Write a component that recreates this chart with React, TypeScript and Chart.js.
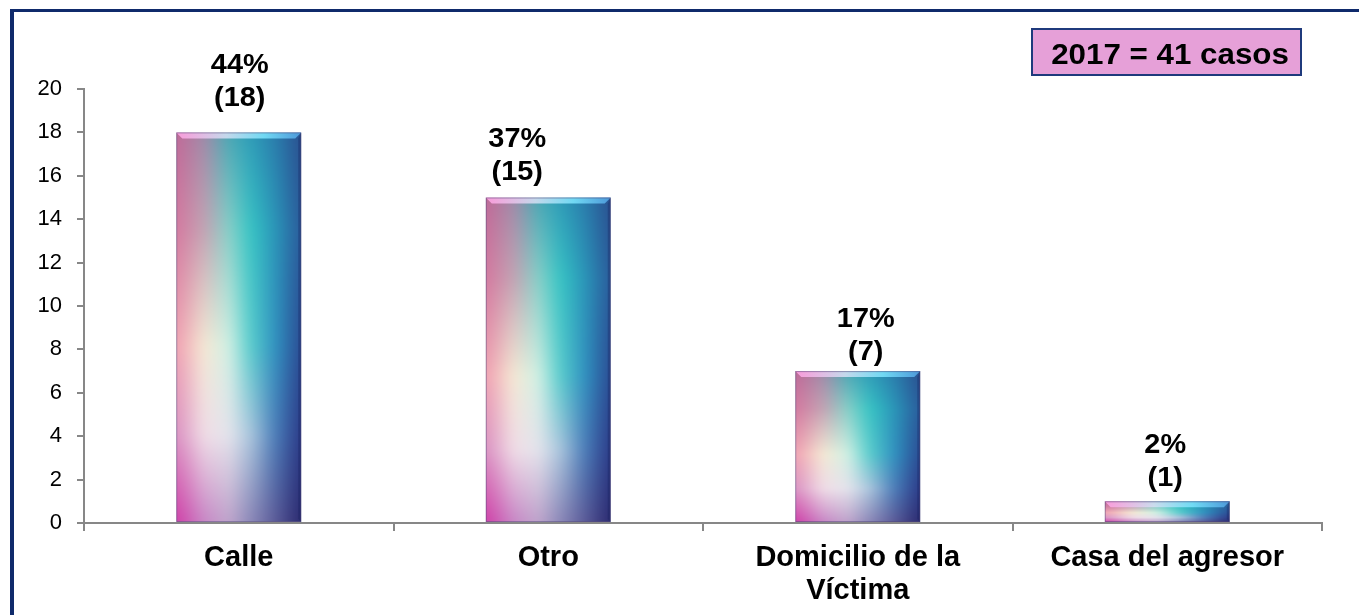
import React, { useEffect, useRef } from 'react';
import { Chart, registerables } from 'chart.js';

Chart.register(...registerables);

// ---------- data ----------
const categories: (string | string[])[] = ['Calle', 'Otro', ['Domicilio de la', 'Víctima'], 'Casa del agresor'];
const cases: number[] = [18, 15, 7, 1];
const percents: number[] = [44, 37, 17, 2];
const yMin = 0;
const yMax = 20;
const yStep = 2;
const totalLabel = '2017 = 41 casos';

// ---------- style ----------
const W = 1359;
const H = 615;
const FONT = "'Liberation Sans', Arial, Helvetica, sans-serif";
const AXIS_COLOR = '#878787';
const FRAME_COLOR = '#0f2a6b';
const LABEL_DX = [1, -31, 8, -2];
const LABEL_GAP = [26, 18, 11, 15];
const LABEL_LINE = 33;

// colour grid for the bar fill (columns x rows)
const GX = [0, 0.22, 0.42, 0.6, 0.8, 1];
const GY = [0, 0.25, 0.55, 0.78, 1];
const GRID = [
  ['#c06a98', '#a08aa8', '#4aa8b4', '#2e9cb8', '#2a7cac', '#2a5090'],
  ['#d47aa0', '#c4a4b4', '#88d0c8', '#36c4c4', '#2a94b8', '#2a5c9c'],
  ['#f0a2b2', '#f5e8d4', '#d0f0e4', '#58cccc', '#3090c0', '#2b4c94'],
  ['#da92c2', '#f0dce6', '#e4e4ec', '#a8c4dc', '#4a7cb8', '#2b3a88'],
  ['#d040a8', '#c888c6', '#c0a6cc', '#8a88b8', '#5a5a98', '#2a2a70'],
];

function hex(c: string): number[] {
  return [parseInt(c.slice(1, 3), 16), parseInt(c.slice(3, 5), 16), parseInt(c.slice(5, 7), 16)];
}

function seg(stops: number[], t: number): [number, number] {
  for (let i = 0; i < stops.length - 1; i++) {
    if (t <= stops[i + 1]) {
      return [i, (t - stops[i]) / (stops[i + 1] - stops[i])];
    }
  }
  return [stops.length - 2, 1];
}

function makeGradientCanvas(): HTMLCanvasElement {
  const cw = 100;
  const ch = 300;
  const pad = 20;
  const src = document.createElement('canvas');
  src.width = cw + pad * 2;
  src.height = ch + pad * 2;
  const g = src.getContext('2d')!;
  const img = g.createImageData(src.width, src.height);
  const cols = GRID.map((row) => row.map(hex));
  for (let py = 0; py < src.height; py++) {
    const ty = Math.min(1, Math.max(0, (py - pad) / (ch - 1)));
    const [iy, fy] = seg(GY, ty);
    for (let px = 0; px < src.width; px++) {
      const tx = Math.min(1, Math.max(0, (px - pad) / (cw - 1)));
      const [ix, fx] = seg(GX, tx);
      const a = cols[iy][ix], b = cols[iy][ix + 1], d = cols[iy + 1][ix], e = cols[iy + 1][ix + 1];
      const o = (py * src.width + px) * 4;
      for (let k = 0; k < 3; k++) {
        const top = a[k] + (b[k] - a[k]) * fx;
        const bot = d[k] + (e[k] - d[k]) * fx;
        img.data[o + k] = Math.round(top + (bot - top) * fy);
      }
      img.data[o + 3] = 255;
    }
  }
  g.putImageData(img, 0, 0);
  const out = document.createElement('canvas');
  out.width = cw;
  out.height = ch;
  const og = out.getContext('2d')!;
  og.filter = 'blur(5px)';
  og.drawImage(src, -pad, -pad);
  og.filter = 'none';
  return out;
}

export default function App() {
  const canvasRef = useRef<HTMLCanvasElement | null>(null);

  useEffect(() => {
    const canvas = canvasRef.current;
    if (!canvas) return;
    const ctx0 = canvas.getContext('2d')!;
    const gradCanvas = makeGradientCanvas();
    const patterns = cases.map(() => ctx0.createPattern(gradCanvas, 'no-repeat') as CanvasPattern);

    const barPlugin = {
      id: 'barPlugin',
      beforeDatasetsDraw(chart: any) {
        const meta = chart.getDatasetMeta(0);
        meta.data.forEach((el: any, i: number) => {
          const p = el.getProps(['x', 'y', 'base', 'width'], true);
          const left = p.x - p.width / 2;
          const topY = Math.min(p.y, p.base);
          const h = Math.abs(p.base - p.y);
          patterns[i].setTransform(new DOMMatrix([p.width / 100, 0, 0, h / 300, left, topY]));
        });
      },
      afterDatasetsDraw(chart: any) {
        const ctx = chart.ctx;
        const meta = chart.getDatasetMeta(0);
        meta.data.forEach((el: any, i: number) => {
          const p = el.getProps(['x', 'y', 'base', 'width'], true);
          const l = p.x - p.width / 2;
          const r = p.x + p.width / 2;
          const t = Math.min(p.y, p.base);
          const b = Math.max(p.y, p.base);
          const bev = Math.min(6, (b - t) / 3.5);
          ctx.save();
          // top bevel
          const tg = ctx.createLinearGradient(l, 0, r, 0);
          tg.addColorStop(0, 'rgba(255,160,225,0.9)');
          tg.addColorStop(0.4, 'rgba(215,225,245,0.85)');
          tg.addColorStop(0.7, 'rgba(120,225,250,0.9)');
          tg.addColorStop(1, 'rgba(80,160,225,0.9)');
          ctx.fillStyle = tg;
          ctx.beginPath();
          ctx.moveTo(l, t);
          ctx.lineTo(r, t);
          ctx.lineTo(r - bev, t + bev);
          ctx.lineTo(l + bev, t + bev);
          ctx.closePath();
          ctx.fill();
          // right bevel
          ctx.fillStyle = 'rgba(20,30,90,0.3)';
          ctx.beginPath();
          ctx.moveTo(r, t);
          ctx.lineTo(r, b);
          ctx.lineTo(r - bev * 0.5, b - bev * 0.5);
          ctx.lineTo(r - bev * 0.5, t + bev);
          ctx.closePath();
          ctx.fill();
          // outline
          ctx.strokeStyle = 'rgba(80,70,120,0.5)';
          ctx.lineWidth = 1;
          ctx.strokeRect(l + 0.5, t + 0.5, r - l - 1, b - t - 1);
          ctx.restore();

          // value labels
          ctx.save();
          ctx.fillStyle = '#000';
          ctx.font = `bold 27px ${FONT}`;
          ctx.textAlign = 'center';
          ctx.textBaseline = 'alphabetic';
          const cx = p.x + LABEL_DX[i];
          const lower = t - LABEL_GAP[i];
          const upper = lower - LABEL_LINE;
          const lines: [string, number][] = [
            [`${percents[i]}%`, upper],
            [`(${cases[i]})`, lower],
          ];
          lines.forEach(([txt, yy]) => {
            ctx.save();
            ctx.translate(cx, yy);
            ctx.scale(1.07, 1);
            ctx.fillText(txt, 0, 0);
            ctx.restore();
          });
          ctx.restore();
        });
      },
      afterDraw(chart: any) {
        const ctx = chart.ctx;
        ctx.save();
        // frame (top + left)
        ctx.fillStyle = FRAME_COLOR;
        ctx.fillRect(10, 9, 4, H - 9);
        ctx.fillRect(10, 9, W - 10, 3);
        // total box
        const bx = 1032, by = 29, bw = 269, bh = 46;
        ctx.fillStyle = '#e6a0d8';
        ctx.fillRect(bx, by, bw, bh);
        ctx.strokeStyle = '#1f3a7c';
        ctx.lineWidth = 2;
        ctx.strokeRect(bx, by, bw, bh);
        ctx.fillStyle = '#000';
        ctx.font = `bold 29px ${FONT}`;
        ctx.textAlign = 'center';
        ctx.textBaseline = 'alphabetic';
        ctx.translate(1170, 64);
        ctx.scale(1.08, 1);
        ctx.fillText(totalLabel, 0, 0);
        ctx.restore();
      },
    };

    const chart = new Chart(canvas, {
      type: 'bar',
      data: {
        labels: categories,
        datasets: [
          {
            data: cases,
            backgroundColor: (c: any) => patterns[c.dataIndex] ?? '#40c0c8',
            borderWidth: 0,
            barPercentage: 0.404,
            categoryPercentage: 1,
          },
        ],
      },
      options: {
        responsive: false,
        animation: false,
        devicePixelRatio: 1,
        layout: { padding: { top: 89, right: 37, bottom: 0, left: 0 } },
        plugins: {
          legend: { display: false },
          tooltip: { enabled: false },
          title: { display: false },
        },
        scales: {
          x: {
            grid: {
              display: true,
              drawOnChartArea: false,
              drawTicks: true,
              tickLength: 8,
              color: AXIS_COLOR,
              lineWidth: 2,
              offset: true,
            },
            border: { display: true, color: AXIS_COLOR, width: 2 },
            ticks: {
              color: '#000',
              padding: 10,
              maxRotation: 0,
              autoSkip: false,
              font: { family: FONT, size: 29, weight: 'bold', lineHeight: 1.15 },
            },
            afterFit: (scale: any) => {
              scale.height = 92;
            },
          },
          y: {
            min: yMin,
            max: yMax,
            grid: {
              display: true,
              drawOnChartArea: false,
              drawTicks: true,
              tickLength: 7,
              color: AXIS_COLOR,
              lineWidth: 2,
            },
            border: { display: true, color: AXIS_COLOR, width: 2 },
            ticks: {
              stepSize: yStep,
              color: '#000',
              padding: 15,
              font: { family: FONT, size: 22 },
            },
            afterFit: (scale: any) => {
              scale.width = 84;
            },
          },
        },
      },
      plugins: [barPlugin],
    } as any);

    return () => {
      chart.destroy();
    };
  }, []);

  return (
    <div style={{ position: 'absolute', left: 0, top: 0, width: W, height: H, background: '#fff' }}>
      <canvas ref={canvasRef} width={W} height={H} style={{ display: 'block' }} />
    </div>
  );
}
